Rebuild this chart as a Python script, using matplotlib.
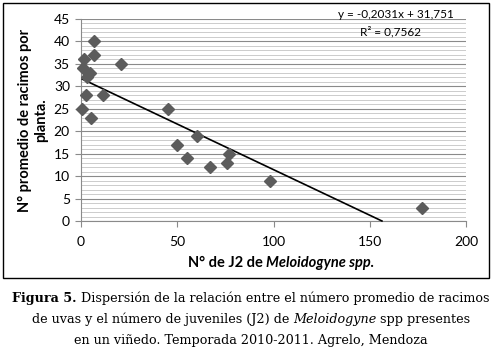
import numpy as np
import matplotlib
matplotlib.use('Agg')
import matplotlib.pyplot as plt
from matplotlib.patches import Rectangle

# Data (J2 count vs mean bunches per plant)
j2 = [0.7, 0.9, 1.7, 3.3, 4.7, 2.8, 5.0, 6.8, 6.8, 11.6, 20.8,
      45, 50, 55, 60, 67, 76, 77, 98, 177]
racimos = [25, 34, 36, 32, 33, 28, 23, 40, 37, 28, 35,
           25, 17, 14, 19, 12, 13, 15, 9, 3]

slope, intercept = -0.2031, 31.751
r2 = 0.7562

xticks = [0, 50, 100, 150, 200]
yticks = list(range(0, 46, 5))

axis_font = 'Lato'
cap_font = 'DejaVu Serif'

W, H = 500, 348
fig = plt.figure(figsize=(W / 100, H / 100), dpi=100)
ax = fig.add_axes([81 / W, 1 - 221 / H, 385 / W, 202 / H])
renderer = fig.canvas.get_renderer()


def text_width(s, **kw):
    t = fig.text(0, 0, s, **kw)
    w = t.get_window_extent(renderer).width
    t.remove()
    return w


def draw_runs(runs, cx, y, **kw):
    """Draw a line of text made of runs with different styles, centred at cx (px)."""
    sp = text_width('a a', **kw) - text_width('aa', **kw)
    widths = [text_width(s, style=st, weight=wt, **kw) for s, st, wt in runs]
    total = sum(widths) + sp * (len(runs) - 1)
    x = cx - total / 2
    for (s, st, wt), w in zip(runs, widths):
        fig.text(x / W, 1 - y / H, s, style=st, weight=wt, ha='left', **kw)
        x += w + sp
    return total


# outer frame of the chart
fig.patches.append(Rectangle((3 / W, 1 - 278 / H), 486 / W, 275 / H,
                             transform=fig.transFigure, fill=False,
                             edgecolor='black', linewidth=1.0))

ax.set_xlim(0, 200)
ax.set_ylim(0, 45)
ax.set_xticks(xticks)
ax.set_yticks(yticks)
ax.set_yticks(np.arange(0, 46, 1), minor=True)
ax.grid(True, axis='y', which='major', color='#8a8a8a', linewidth=0.8)
ax.grid(True, axis='y', which='minor', color='#c4c4c4', linewidth=0.6)
ax.set_axisbelow(True)

for s in ['top', 'right']:
    ax.spines[s].set_visible(False)
for s in ['left', 'bottom']:
    ax.spines[s].set_color('#8a8a8a')
    ax.spines[s].set_linewidth(0.8)
ax.tick_params(which='major', length=4, color='#8a8a8a', labelsize=10, pad=4)
ax.tick_params(which='minor', length=0)
ax.tick_params(axis='x', pad=7)
for lab in ax.get_xticklabels() + ax.get_yticklabels():
    lab.set_fontfamily(axis_font)

# trendline from the smallest x until it reaches zero
x0 = min(j2)
x1 = -intercept / slope
ax.plot([x0, x1], [slope * x0 + intercept, 0], color='black', linewidth=1.2,
        clip_on=False, zorder=3)

ax.plot(j2, racimos, linestyle='none', marker='D', markersize=6.5,
        color='#5c5c5c', zorder=4, clip_on=False)

ax.text(0.817, 1.02, 'y = -0,2031x + 31,751', transform=ax.transAxes,
        ha='center', va='center', fontsize=8.5, family=axis_font)
ax.text(0.805, 0.935, 'R² = 0,7562', transform=ax.transAxes,
        ha='center', va='center', fontsize=8.5, family=axis_font)

ax.set_ylabel('N° promedio de racimos por\nplanta.', fontsize=10.5,
              fontweight='bold', family=axis_font, labelpad=4, linespacing=1.15)

# x axis title with italic genus name
draw_runs([('N° de J2 de', 'normal', 'bold'),
           ('Meloidogyne spp.', 'italic', 'bold')],
          281, 263, fontsize=10.5, family=axis_font, va='center')

# caption below the chart, first line fitted to the reference width
cap_runs = [
    [('Figura 5.', 'normal', 'bold'),
     ('Dispersión de la relación entre el número promedio de racimos', 'normal', 'normal')],
    [('de uvas y el número de juveniles (J2) de', 'normal', 'normal'),
     ('Meloidogyne', 'italic', 'normal'),
     ('spp presentes', 'normal', 'normal')],
    [('en un viñedo. Temporada 2010-2011. Agrelo, Mendoza', 'normal', 'normal')],
]
probe = fig.text(0, 0, ' '.join(s for s, _, _ in cap_runs[0]), fontsize=10,
                 family=cap_font)
cap_size = 10 * 477 / probe.get_window_extent(renderer).width
probe.remove()
for runs, yb in zip(cap_runs, [302, 323, 344]):
    draw_runs(runs, 251, yb, fontsize=cap_size, family=cap_font, va='baseline')

fig.savefig('out.png', dpi=100)
